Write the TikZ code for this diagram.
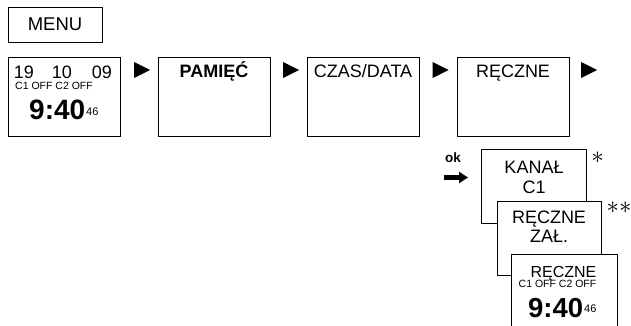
\documentclass[tikz,border=0pt]{standalone}
\usepackage{fontspec}
\setmainfont{Liberation Sans}
\usepackage{tikz}
\usetikzlibrary{shapes,arrows.meta}

\tikzset{
  box/.style = {draw, line width=0.8pt, inner sep=0pt, minimum width=112pt, minimum height=79pt},
  subbox/.style = {draw, fill=white, line width=0.8pt, inner sep=0pt, minimum height=74pt},
  tri/.style = {isosceles triangle, isosceles triangle stretches, fill=black, inner sep=0pt, minimum width=16pt, minimum height=16pt},
  big/.style = {font=\fontsize{18}{18}\selectfont, inner sep=0pt, anchor=base},
  small/.style = {font=\fontsize{10.5}{10.5}\selectfont, inner sep=0pt, anchor=base},
  clock/.style = {font=\fontsize{28}{28}\selectfont\bfseries, inner sep=0pt, anchor=base west},
  sec/.style = {font=\fontsize{11}{11}\selectfont, inner sep=0pt, anchor=base west},
  star/.style = {font=\fontsize{24}{24}\selectfont, inner sep=0pt}
}

\begin{document}
\begin{tikzpicture}[x=1pt, y=-1pt]
\useasboundingbox (0,0) rectangle (631,326);

\node[draw, line width=0.8pt, minimum width=94pt, minimum height=35pt, font=\fontsize{18.5}{18.5}\selectfont] (menu) at (55,24.5) {MENU};

\node[box] (home) at (64,96.5) {};
\node[big] (d19) at (24,79) {19};
\node[big] (d10) at (62,79) {10};
\node[big] (d09) at (102,79) {09};
\node[small, anchor=base west] (off1) at (15,89.5) {C1 OFF C2 OFF};
\node[clock] (time1) at (29,120) {9:40};
\node[sec] (s1) at (86,115) {46};

\node[box] (mem) at (214,96.5) {};
\node[big, font=\fontsize{18}{18}\selectfont\bfseries] (memtxt) at (214,78) {PAMIĘĆ};

\node[box] (date) at (363,96.5) {};
\node[big] (datetxt) at (363,78) {CZAS/DATA};

\node[box] (man) at (513,96.5) {};
\node[big] (mantxt) at (513,78) {RĘCZNE};

\node[tri] (t1) at (139,70) {};
\node[tri] (t2) at (288,70) {};
\node[tri] (t3) at (437.5,70) {};
\node[tri] (t4) at (586,70) {};

\node[font=\fontsize{13.5}{13.5}\selectfont\bfseries, inner sep=0pt, anchor=base west] (ok) at (445,162) {ok};
\coordinate (okA) at (444,177.5);
\coordinate (okB) at (468,177.5);
\draw[line width=5pt, -{Triangle[length=9pt, width=11pt]}] (okA) -- (okB);

\node[subbox, minimum width=105pt] (chan) at (534,186) {};
\node[big] (chantxt) at (534,173) {KANAŁ};
\node[big] (c1txt) at (534,193) {C1};
\node[star] (st1) at (597.5,158) {$\ast$};

\node[subbox, minimum width=104pt] (on) at (549,238) {};
\node[big] (ontxt) at (549,223) {RĘCZNE};
\node[big] (zaltxt) at (549,242) {ZAŁ.};
\node[star] (st2) at (619,208) {$\ast\ast$};

\node[subbox, minimum width=106pt] (last) at (564,291) {};
\node[big, font=\fontsize{16}{16}\selectfont] (lasttxt) at (563.5,277) {RĘCZNE};
\node[small] (off2) at (557.5,287) {C1 OFF C2 OFF};
\node[clock, font=\fontsize{27.5}{27.5}\selectfont\bfseries] (time2) at (528,317) {9:40};
\node[sec] (s2) at (584,312) {46};

\end{tikzpicture}
\end{document}
